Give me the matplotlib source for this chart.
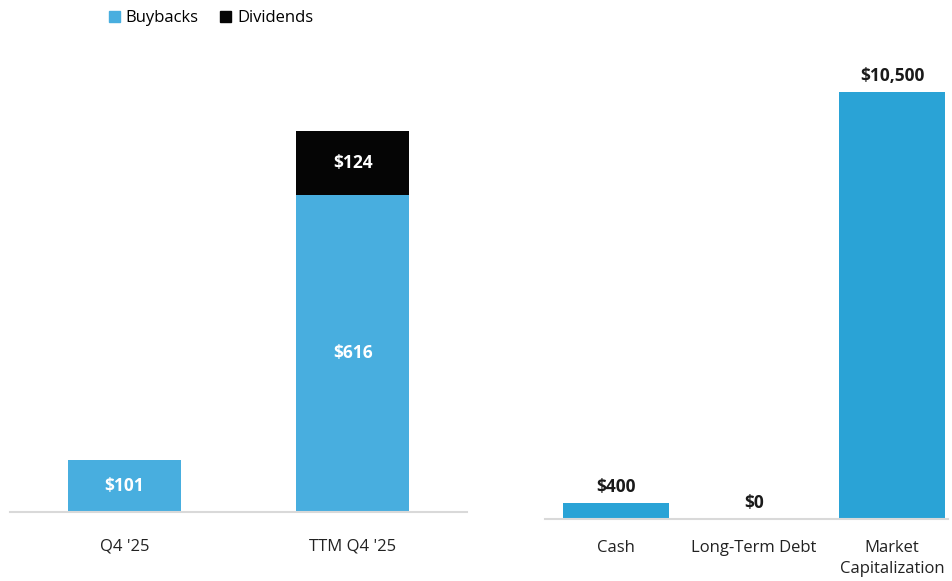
import matplotlib
matplotlib.use("Agg")
import matplotlib.pyplot as plt
from matplotlib.patches import Patch

plt.rcParams['font.family'] = ['Open Sans', 'DejaVu Sans']

# Data
left_cats = ["Q4 '25", "TTM Q4 '25"]
buybacks = [101, 616]
dividends = [0, 124]

right_cats = ["Cash", "Long-Term Debt", "Market\nCapitalization"]
right_vals = [400, 0, 10500]

blue_l = "#48AEDF"
blue_r = "#2AA3D6"
black = "#050505"
base_col = "#D9D9D9"

W, H = 952, 581
fig = plt.figure(figsize=(W / 100, H / 100), dpi=100)

# Left axes
axL = fig.add_axes([10 / W, (H - 512) / H, 457 / W, 452 / H])
x = list(range(len(left_cats)))
axL.bar(x, buybacks, width=0.495, color=blue_l)
axL.bar(x, dividends, width=0.495, bottom=buybacks, color=black)
axL.set_xlim(-0.5, 1.5)
axL.set_ylim(0, 452 / 0.515)
for i in x:
    axL.text(i, buybacks[i] / 2, f"${buybacks[i]:,}", ha="center", va="center",
             color="white", fontweight="bold", fontsize=12.5)
    if dividends[i] > 0:
        axL.text(i, buybacks[i] + dividends[i] / 2, f"${dividends[i]:,}", ha="center",
                 va="center", color="white", fontweight="bold", fontsize=12.5)

# Right axes
x0 = 545
span = 403
unit = 138
axR = fig.add_axes([x0 / W, (H - 519) / H, span / W, 460 / H])
xr = list(range(len(right_cats)))
axR.bar(xr, right_vals, width=0.77, color=blue_r)
lo = -(616 - x0) / unit
axR.set_xlim(lo, lo + span / unit)
axR.set_ylim(0, 460 / (427 / 10500))
for i in xr:
    axR.annotate(f"${right_vals[i]:,}", (i, right_vals[i]), xytext=(0, 5),
                 textcoords="offset points", ha="center", va="bottom",
                 color="#1A1A1A", fontweight="bold", fontsize=12.5)

for ax, cats in ((axL, left_cats), (axR, right_cats)):
    for s in ("top", "right", "left"):
        ax.spines[s].set_visible(False)
    ax.spines["bottom"].set_color(base_col)
    ax.spines["bottom"].set_linewidth(1.5)
    ax.set_yticks([])
    ax.set_xticks(range(len(cats)))
    ax.set_xticklabels(cats, fontsize=12, color="#222222", linespacing=1.45)
    ax.tick_params(axis="x", length=0, pad=19 if ax is axL else 15)

# Legend
handles = [Patch(color=blue_l, label="Buybacks"), Patch(color=black, label="Dividends")]
fig.legend(handles=handles, loc="center left", bbox_to_anchor=(109 / W, 1 - 18 / H),
           ncol=2, frameon=False, fontsize=12, handlelength=0.65, handleheight=0.65,
           handletextpad=0.35, columnspacing=1.3, borderaxespad=0, borderpad=0)

fig.savefig("out.png", dpi=100, facecolor="white")
